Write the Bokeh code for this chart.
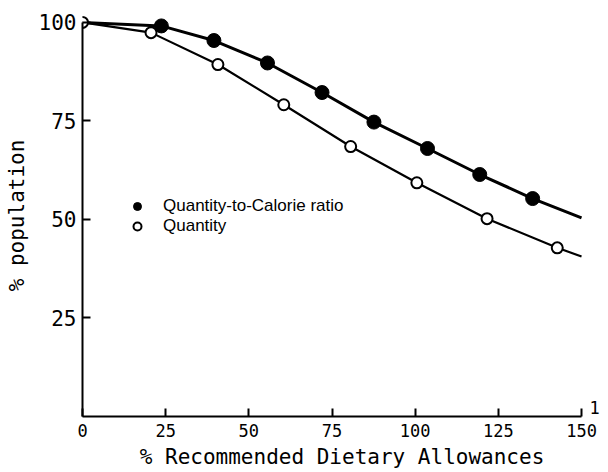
from bokeh.plotting import figure
from bokeh.models import FixedTicker, Legend, LegendItem, Label, Range1d
from bokeh.embed import file_html
from bokeh.resources import INLINE

# Quantity-to-Calorie ratio (filled circles)
ratio_line_x = [0, 23.7, 39.5, 55.6, 72.0, 87.6, 103.7, 119.4, 135.3, 150]
ratio_line_y = [100, 99.1, 95.4, 89.7, 82.2, 74.7, 68.0, 61.4, 55.3, 50.4]
ratio_pts_x = [23.7, 39.5, 55.6, 72.0, 87.6, 103.7, 119.4, 135.3]
ratio_pts_y = [99.1, 95.4, 89.7, 82.2, 74.7, 68.0, 61.4, 55.3]

# Quantity (open circles)
qty_line_x = [0, 20.6, 40.7, 60.5, 80.6, 100.5, 121.6, 142.7, 150]
qty_line_y = [100, 97.4, 89.3, 79.1, 68.5, 59.3, 50.2, 42.8, 40.6]
qty_pts_x = [0, 20.6, 40.7, 60.5, 80.6, 100.5, 121.6, 142.7]
qty_pts_y = [100, 97.4, 89.3, 79.1, 68.5, 59.3, 50.2, 42.8]

x_ticks = [0, 25, 50, 75, 100, 125, 150]
y_ticks = [25, 50, 75, 100]

p = figure(width=608, height=472, output_backend="svg", toolbar_location=None,
           x_range=Range1d(0, 156), y_range=Range1d(0, 102),
           min_border_left=82, min_border_right=7, min_border_top=14, min_border_bottom=56)
p.title.visible = False
p.outline_line_color = None
p.grid.visible = False

# lines
p.line(ratio_line_x, ratio_line_y, line_color="black", line_width=3)
p.line(qty_line_x, qty_line_y, line_color="black", line_width=2.2)
r_ratio = p.scatter(ratio_pts_x, ratio_pts_y, size=14, fill_color="black", line_color="black")
r_qty = p.scatter(qty_pts_x, qty_pts_y, size=11, fill_color="white", line_color="black", line_width=2)

# axes
for ax in (p.xaxis[0], p.yaxis[0]):
    ax.axis_line_width = 2
    ax.major_tick_line_width = 2
    ax.major_tick_in = 8
    ax.major_tick_out = 0
    ax.minor_tick_line_color = None
    ax.major_label_text_font = "DejaVu Sans Mono"
    ax.axis_label_text_font = "DejaVu Sans Mono"
    ax.axis_label_text_font_style = "normal"
    ax.major_label_text_color = "black"
    ax.axis_label_text_color = "black"

p.xaxis.bounds = (0, 150)
p.yaxis.bounds = (0, 100)
p.xaxis.ticker = FixedTicker(ticks=x_ticks)
p.yaxis.ticker = FixedTicker(ticks=y_ticks)
p.xaxis.major_label_text_font_size = "17px"
p.yaxis.major_label_text_font_size = "21px"
p.xaxis.major_label_standoff = 7
p.yaxis.major_label_standoff = 6
p.xaxis.axis_label = "% Recommended Dietary Allowances"
p.yaxis.axis_label = "% population"
p.xaxis.axis_label_text_font_size = "21px"
p.yaxis.axis_label_text_font_size = "21px"
p.xaxis.axis_label_standoff = 5
p.yaxis.axis_label_standoff = 7

p.add_layout(Label(x=150, y=0, x_offset=8, y_offset=3, text="1",
                   text_font="DejaVu Sans Mono", text_font_size="17px", text_color="black"))

legend = Legend(items=[LegendItem(label="Quantity-to-Calorie ratio", renderers=[r_ratio]),
                       LegendItem(label="Quantity", renderers=[r_qty])],
                location=(45, 180), padding=0, margin=0, spacing=0,
                glyph_width=20, glyph_height=20, label_height=20, label_standoff=16,
                label_text_font="Liberation Sans", label_text_font_size="17px",
                label_text_color="black",
                background_fill_alpha=0, border_line_color=None)
p.add_layout(legend)

open("out.html", "w").write(file_html(p, INLINE))
